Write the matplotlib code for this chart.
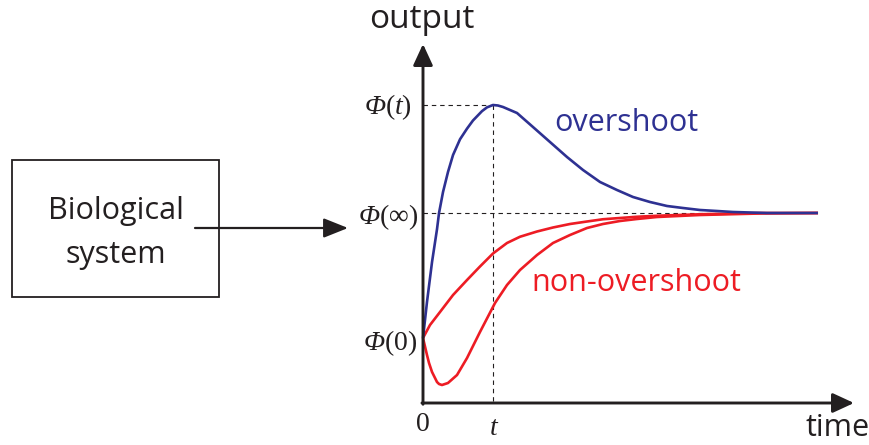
import matplotlib
matplotlib.use("Agg")
import matplotlib.pyplot as plt
from matplotlib.patches import Rectangle

W, H = 870, 445

# curves, time in units of the peak time t, output with phi(0)=0 and phi(inf)=1
overshoot_time = [0.000, 0.057, 0.129, 0.200, 0.229, 0.286, 0.357, 0.429, 0.529, 0.629,
                  0.714, 0.843, 0.914, 1.000, 1.070, 1.143, 1.343, 1.571, 1.814, 2.057,
                  2.286, 2.529, 2.771, 3.000, 3.243, 3.486, 3.714, 3.957, 4.200, 4.429,
                  4.914, 5.643]
overshoot_out = [0.000, 0.288, 0.608, 0.870, 1.000, 1.168, 1.328, 1.464, 1.590, 1.675,
                 1.740, 1.815, 1.845, 1.864, 1.860, 1.848, 1.800, 1.688, 1.568, 1.448,
                 1.344, 1.248, 1.184, 1.128, 1.088, 1.056, 1.040, 1.024, 1.016, 1.008,
                 1.000, 1.000]

smooth_time = [0.000, 0.100, 0.243, 0.429, 0.629, 0.814, 1.000, 1.200, 1.386, 1.629,
               1.857, 2.100, 2.343, 2.571, 2.814, 3.057, 3.343, 3.957, 4.814, 5.643]
smooth_out = [0.000, 0.104, 0.208, 0.344, 0.464, 0.572, 0.676, 0.760, 0.810, 0.852,
              0.884, 0.912, 0.932, 0.950, 0.960, 0.970, 0.978, 0.990, 1.000, 1.000]

dip_time = [0.000, 0.057, 0.086, 0.129, 0.200, 0.229, 0.271, 0.357, 0.486, 0.629,
            0.814, 1.029, 1.200, 1.386, 1.629, 1.857, 2.100, 2.343, 2.571, 2.814,
            3.057, 3.343, 3.957, 4.814, 5.643]
dip_out = [0.000, -0.136, -0.200, -0.272, -0.352, -0.368, -0.376, -0.360, -0.296, -0.160,
           0.048, 0.280, 0.424, 0.544, 0.664, 0.760, 0.824, 0.880, 0.912, 0.936,
           0.952, 0.968, 0.984, 0.996, 1.000]

PHI_0, PHI_INF, PHI_T = 0.0, 1.0, 1.864
T_PEAK = 1.0

BLUE = "#2E3192"
RED = "#ED1C24"
BLACK = "#231F20"

plt.rcParams['mathtext.fontset'] = 'custom'
plt.rcParams['mathtext.rm'] = 'Liberation Serif'
plt.rcParams['mathtext.it'] = 'Liberation Serif:italic'
SANS = 'Open Sans'
SERIF = 'Liberation Serif'

fig = plt.figure(figsize=(W / 100, H / 100), dpi=100)
ax = fig.add_axes([0, 0, 1, 1])
ax.axis('off')
# pixel 423 -> time 0, 70 px per time unit; pixel 338 -> output 0, 125 px per unit
ax.set_xlim(-423 / 70, (W - 423) / 70)
ax.set_ylim((338 - H) / 125, 338 / 125)


def fp(x, y):
    # pixel position -> figure fraction
    return x / W, 1 - y / H


# axes arrows
x_axis_y = (338 - 403) / 125
ax.annotate('', xy=(0, (338 - 44) / 125), xytext=(0, x_axis_y - 0.01),
            arrowprops=dict(arrowstyle='-|>,head_length=0.65,head_width=0.3',
                            lw=2.1, color=BLACK, mutation_scale=20, shrinkA=0, shrinkB=0))
ax.annotate('', xy=((854 - 423) / 70, x_axis_y), xytext=(-0.015, x_axis_y),
            arrowprops=dict(arrowstyle='-|>,head_length=0.65,head_width=0.3',
                            lw=2.1, color=BLACK, mutation_scale=20, shrinkA=0, shrinkB=0))

# guide lines
dash = dict(color=BLACK, lw=0.8, linestyle=(0, (4, 3.5)))
ax.plot([0, T_PEAK], [PHI_T, PHI_T], **dash)
ax.plot([T_PEAK, T_PEAK], [PHI_T, x_axis_y], **dash)
ax.plot([0, 4.9], [PHI_INF, PHI_INF], **dash)

# curves
line_kw = dict(lw=1.9, solid_joinstyle='round', solid_capstyle='butt')
ax.plot(smooth_time, smooth_out, color=RED, **line_kw)
ax.plot(dip_time, dip_out, color=RED, **line_kw)
ax.plot(overshoot_time, overshoot_out, color=BLUE, **line_kw)

# y labels: italic phi + upright brackets
renderer = fig.canvas.get_renderer()


def phi_label(right_px, base_px, arg):
    x, y = fp(right_px, base_px)
    rest = fig.text(x, y, arg, fontsize=20, ha='right', va='baseline', color=BLACK)
    w = rest.get_window_extent(renderer).width
    fig.text(x - (w - 1) / W, y, 'Φ', fontsize=20, family=SERIF, style='italic',
             ha='right', va='baseline', color=BLACK)


phi_label(412, 114, r'$(t)$')
phi_label(418, 224, r'$(\infty)$')
phi_label(417, 350, r'$(0)$')
fig.text(*fp(422, 423), r'$0$', fontsize=20, ha='center', va='center', color=BLACK)
fig.text(*fp(494, 427), r'$t$', fontsize=20, ha='center', va='center', color=BLACK)

fig.text(*fp(422, 19), 'output', fontsize=24, family=SANS, color=BLACK,
         ha='center', va='center')
fig.text(*fp(838, 428), 'time', fontsize=22, family=SANS, color=BLACK,
         ha='center', va='center')
fig.text(*fp(626, 123), 'overshoot', fontsize=22, family=SANS, color=BLUE,
         ha='center', va='center')
fig.text(*fp(636, 283), 'non-overshoot', fontsize=22, family=SANS, color=RED,
         ha='center', va='center')

# system box and arrow
box = Rectangle(fp(12, 297), 207 / W, 137 / H, transform=fig.transFigure,
                fill=False, edgecolor=BLACK, lw=1.3)
fig.add_artist(box)
fig.text(*fp(116, 211), 'Biological', fontsize=22, family=SANS, color=BLACK,
         ha='center', va='center')
fig.text(*fp(116, 255), 'system', fontsize=22, family=SANS, color=BLACK,
         ha='center', va='center')
ax.annotate('', xy=fp(348, 228), xytext=fp(195, 228), xycoords='figure fraction',
            textcoords='figure fraction',
            arrowprops=dict(arrowstyle='-|>,head_length=0.75,head_width=0.3',
                            lw=1.6, color=BLACK, mutation_scale=20, shrinkA=0, shrinkB=0))

fig.savefig('out.png', dpi=100)
